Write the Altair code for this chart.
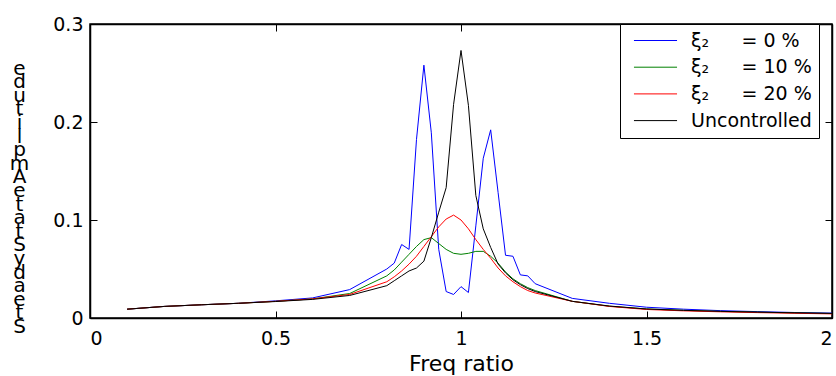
import altair as alt
import pandas as pd

freq = [0.1, 0.2, 0.3, 0.4, 0.5, 0.6, 0.7, 0.8,
        0.82, 0.84, 0.86, 0.88, 0.90, 0.92, 0.94, 0.96, 0.98, 1.00,
        1.02, 1.04, 1.06, 1.08, 1.10, 1.12, 1.14, 1.16, 1.18, 1.20,
        1.3, 1.4, 1.5, 1.6, 1.7, 1.8, 1.9, 2.0]

amp_xi0 = [0.009, 0.0118, 0.0135, 0.015, 0.0175, 0.0205, 0.029, 0.050,
           0.056, 0.075, 0.070, 0.182, 0.258, 0.189, 0.070, 0.027, 0.024, 0.032,
           0.026, 0.094, 0.163, 0.192, 0.128, 0.064, 0.063, 0.044, 0.043, 0.035,
           0.020, 0.015, 0.011, 0.009, 0.0075, 0.0065, 0.0056, 0.005]

amp_xi10 = [0.009, 0.0118, 0.0135, 0.015, 0.017, 0.0195, 0.025, 0.043,
            0.049, 0.057, 0.065, 0.073, 0.080, 0.082, 0.076, 0.070, 0.066, 0.065,
            0.066, 0.068, 0.068, 0.063, 0.056, 0.047, 0.040, 0.035, 0.031, 0.028,
            0.017, 0.012, 0.0092, 0.0078, 0.0067, 0.0059, 0.0052, 0.0046]

amp_xi20 = [0.009, 0.0118, 0.0135, 0.015, 0.017, 0.0195, 0.024, 0.037,
            0.042, 0.048, 0.055, 0.063, 0.073, 0.083, 0.093, 0.101, 0.105, 0.100,
            0.091, 0.080, 0.070, 0.061, 0.051, 0.043, 0.037, 0.032, 0.028, 0.0255,
            0.017, 0.0118, 0.0087, 0.0073, 0.0063, 0.0055, 0.0048, 0.0042]

amp_unc = [0.009, 0.0118, 0.0135, 0.015, 0.0168, 0.019, 0.023, 0.033,
           0.038, 0.043, 0.048, 0.051, 0.058, 0.082, 0.108, 0.133, 0.218, 0.273,
           0.217, 0.125, 0.091, 0.072, 0.055, 0.046, 0.039, 0.034, 0.030, 0.027,
           0.017, 0.0122, 0.0092, 0.0078, 0.0068, 0.006, 0.0053, 0.0047]

series_names = ["\u00a0\u03be\u2082\u2003\u2002\u2009= 0 %",
                "\u00a0\u03be\u2082\u2003\u2002\u2009= 10 %",
                "\u00a0\u03be\u2082\u2003\u2002\u2009= 20 %",
                "Uncontrolled\u2002"]
series_colors = ["#0000ff", "#008000", "#ff0000", "#000000"]

x_ticks = [0, 0.5, 1, 1.5, 2]
y_ticks = [0, 0.1, 0.2, 0.3]
y_title = list(reversed("SteadyStateAmplitude"))
x_title = "Freq ratio"

rows = []
for name, vals in zip(series_names, [amp_xi0, amp_xi10, amp_xi20, amp_unc]):
    for f, a in zip(freq, vals):
        rows.append({"freq": f, "amp": a, "series": name})
df = pd.DataFrame(rows)

W, H = 742, 294
FONT = "DejaVu Sans"
FRAME = 1.5

xscale = alt.Scale(domain=[0, 2], nice=False, zero=False)
yscale = alt.Scale(domain=[0, 0.3], nice=False)

main = alt.Chart(df).mark_line(strokeWidth=1).encode(
    x=alt.X("freq:Q", scale=xscale,
            axis=alt.Axis(orient="bottom", values=x_ticks, format="~g", title=x_title,
                          domain=True, domainColor="black", domainWidth=FRAME,
                          ticks=False, tickSize=0, grid=False,
                          labelPadding=11, labelFontSize=19, labelFont=FONT,
                          labelColor="black", titleFont=FONT, titleFontSize=22,
                          titleFontWeight="normal", titleColor="black",
                          titleBaseline="alphabetic", titleY=52)),
    y=alt.Y("amp:Q", scale=yscale,
            axis=alt.Axis(orient="left", values=y_ticks, format="~g", title=y_title,
                          domain=True, domainColor="black", domainWidth=FRAME,
                          ticks=False, tickSize=0, grid=False,
                          labelPadding=7, labelFontSize=19, labelFont=FONT,
                          labelColor="black", titleFont=FONT, titleFontSize=20,
                          titleFontWeight="normal", titleColor="black",
                          titleAngle=0, titleAlign="center", titleBaseline="middle",
                          titleLineHeight=13.6, titleX=-71, titleY=44)),
    color=alt.Color("series:N",
                    scale=alt.Scale(domain=series_names, range=series_colors),
                    sort=series_names,
                    legend=alt.Legend(title=None, orient="none", legendX=530, legendY=0,
                                      direction="vertical",
                                      symbolType="M-4,0H4", symbolSize=116,
                                      symbolStrokeWidth=1, symbolOffset=19,
                                      labelOffset=26, labelFont=FONT, labelFontSize=19,
                                      labelColor="black", labelLimit=300,
                                      padding=7, rowPadding=6.7,
                                      strokeColor="black", fillColor="white")),
)

ticks_a = alt.Chart(df).mark_line(strokeOpacity=0).encode(
    x=alt.X("freq:Q", scale=xscale,
            axis=alt.Axis(orient="top", offset=-H, values=x_ticks, labels=False,
                          title=None, domain=False, ticks=True, tickSize=7,
                          tickColor="black", grid=False)),
    y=alt.Y("amp:Q", scale=yscale,
            axis=alt.Axis(orient="right", offset=-W, values=y_ticks, labels=False,
                          title=None, domain=False, ticks=True, tickSize=7,
                          tickColor="black", grid=False)),
)

ticks_b = alt.Chart(df).mark_line(strokeOpacity=0).encode(
    x=alt.X("freq:Q", scale=xscale,
            axis=alt.Axis(orient="bottom", offset=-H, values=x_ticks, labels=False,
                          title=None, domain=True, domainColor="black", domainWidth=FRAME,
                          ticks=True, tickSize=7, tickColor="black", grid=False)),
    y=alt.Y("amp:Q", scale=yscale,
            axis=alt.Axis(orient="left", offset=-W, values=y_ticks, labels=False,
                          title=None, domain=True, domainColor="black", domainWidth=FRAME,
                          ticks=True, tickSize=7, tickColor="black", grid=False)),
)

chart = alt.layer(main, ticks_a, ticks_b).resolve_axis(
    x="independent", y="independent"
).properties(
    width=W, height=H,
    autosize=alt.AutoSizeParams(type="none"),
    padding={"left": 90, "top": 24, "right": 4, "bottom": 58},
    background="white",
).configure_view(stroke="black", strokeWidth=FRAME)

chart.save("out.html", embed_options={"renderer": "svg", "actions": False})
